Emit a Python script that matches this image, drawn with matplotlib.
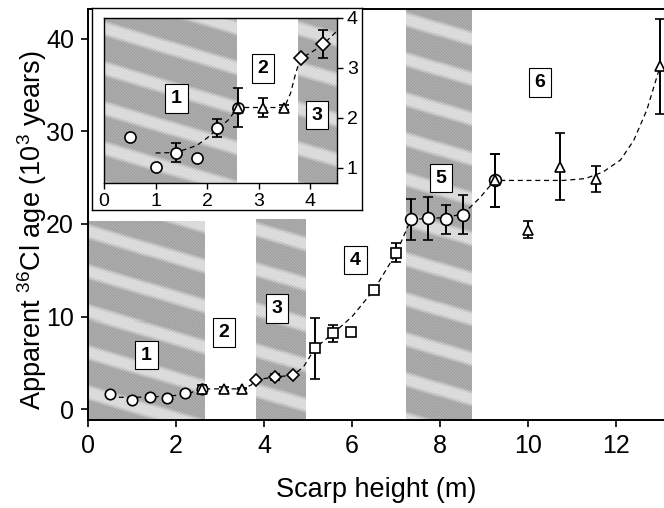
import numpy as np
import matplotlib
matplotlib.use("Agg")
import matplotlib.pyplot as plt

plt.rcParams['font.family'] = ['Liberation Sans', 'DejaVu Sans']
plt.rcParams['mathtext.default'] = 'regular'

# segment 1: circles
circ1_x = [0.5, 1.0, 1.4, 1.8, 2.2, 2.6]
circ1_y = [1.63, 1.03, 1.31, 1.21, 1.81, 2.21]
circ1_err = [0, 0, 0.19, 0, 0.18, 0]
# segment 2: triangles
tri2_x = [2.6, 3.08, 3.5]
tri2_y = [2.21, 2.21, 2.21]
tri2_err = [0.39, 0.19, 0.05]
# segment 3: diamonds
dia3_x = [3.82, 4.25, 4.67]
dia3_y = [3.2, 3.48, 3.7]
dia3_err = [0, 0.28, 0]
# segment 4: squares
sq4_x = [5.16, 5.57, 5.97, 6.5, 7.01]
sq4_y = [6.6, 8.2, 8.3, 12.9, 16.9]
sq4_err = [3.3, 0.95, 0, 0, 1.0]
# segment 5: circles
circ5_x = [7.34, 7.73, 8.13, 8.53, 9.24]
circ5_y = [20.5, 20.6, 20.5, 21.0, 24.7]
circ5_err = [2.2, 2.3, 1.6, 2.1, 2.9]
# segment 6: triangles
tri6_x = [9.24, 10.0, 10.72, 11.55, 13.0]
tri6_y = [24.7, 19.4, 26.2, 24.9, 37.0]
tri6_err = [2.9, 0.9, 3.6, 1.4, 5.1]

# dashed trend
curve_x = [0.5, 1.0, 1.5, 2.0, 2.3, 2.6, 3.0, 3.5, 3.7, 3.82, 4.25, 4.67, 4.9,
           5.16, 5.57, 6.0, 6.5, 7.01, 7.34, 7.73, 8.13, 8.53, 8.9, 9.24,
           10.0, 10.8, 11.3, 11.7, 12.1, 12.4, 12.7, 13.0]
curve_y = [1.3, 1.3, 1.35, 1.5, 1.75, 2.21, 2.21, 2.21, 2.6, 3.2, 3.48, 3.7, 4.6,
           6.6, 8.2, 10.0, 12.9, 16.9, 20.5, 20.6, 20.7, 21.1, 22.8, 24.7,
           24.7, 24.7, 24.9, 25.6, 26.9, 29.0, 32.3, 37.0]
inset_curve_x = [1.0, 1.4, 1.8, 2.0, 2.2, 2.4, 2.6, 3.0, 3.5, 3.62, 3.72, 3.81, 4.0, 4.23, 4.5]
inset_curve_y = [1.3, 1.31, 1.45, 1.6, 1.78, 1.95, 2.21, 2.21, 2.21, 2.5, 2.9, 3.19, 3.3, 3.45, 3.72]

# zone labels
zone_labels = ['1', '2', '3', '4', '5', '6']
zone_x = [1.33, 3.09, 4.30, 6.08, 8.02, 10.27]
zone_y = [5.85, 8.3, 10.9, 16.1, 24.95, 35.3]
inset_zone_labels = ['1', '2', '3']
inset_zone_x = [1.41, 3.08, 4.13]
inset_zone_y = [2.39, 2.99, 2.06]

main_bands = [(0.0, 2.64, 20.3), (3.82, 4.95, 20.5), (7.23, 8.72, 43.2)]
inset_bands = [(0.0, 2.58), (3.77, 4.52)]

W, H = 664, 508
fig = plt.figure(figsize=(W / 100, H / 100), dpi=100)


def fx(px):
    return px / W


def fy(py):
    return 1 - py / H


def stripes(ax, x0, x1, y0, y1, pxu, pyu):
    # striped grey texture like the photographic bands
    w = max(int((x1 - x0) * pxu), 2)
    h = max(int((y1 - y0) * pyu), 2)
    xx, yy = np.meshgrid(np.arange(w), np.arange(h))
    phase = (yy - 0.3 * xx) / 40.0
    s = np.sin(2 * np.pi * phase)
    tex = 0.64 + 0.2 * np.clip((s - 0.2) / 0.6, 0, 1) + 0.05 * ((xx + 2 * yy) % 3 == 0)
    ax.imshow(tex, cmap='gray', vmin=0, vmax=1, extent=(x0, x1, y0, y1),
              aspect='auto', origin='upper', zorder=0, interpolation='nearest')


def nz(err):
    return [e if e > 0 else np.nan for e in err]


ebkw = dict(ecolor='black', elinewidth=1.4, capsize=3.5, capthick=1.4,
            mec='black', mfc='white', mew=1.2, linestyle='none', zorder=3)
boxkw = dict(boxstyle='square,pad=0.3', fc='white', ec='black', lw=0.8)

# main axes
ax = fig.add_axes([fx(88), fy(420), 1 - fx(88), fy(9) - fy(420)])
ylo, yhi = -1.15, 43.2
for x0, x1, top in main_bands:
    stripes(ax, x0, x1, ylo, top, 44, 9.27)
ax.plot(curve_x, curve_y, color='black', lw=0.9, dashes=(4, 3), zorder=2)
ax.errorbar(circ1_x, circ1_y, yerr=nz(circ1_err), fmt='o', ms=7.5, **ebkw)
ax.errorbar(tri2_x, tri2_y, yerr=nz(tri2_err), fmt='^', ms=6.5, **ebkw)
ax.errorbar(dia3_x, dia3_y, yerr=nz(dia3_err), fmt='D', ms=6.5, **ebkw)
ax.errorbar(sq4_x, sq4_y, yerr=nz(sq4_err), fmt='s', ms=6.5, **ebkw)
ax.errorbar(circ5_x, circ5_y, yerr=nz(circ5_err), fmt='o', ms=8.5, **ebkw)
ax.errorbar(tri6_x, tri6_y, yerr=nz(tri6_err), fmt='^', ms=7, **ebkw)
for lab, x, y in zip(zone_labels, zone_x, zone_y):
    ax.text(x, y, lab, ha='center', va='center', fontsize=14, fontweight='bold',
            zorder=4, bbox=boxkw)
ax.set_xlim(0, 13.09)
ax.set_ylim(ylo, yhi)
ax.set_xticks([0, 2, 4, 6, 8, 10, 12])
ax.set_yticks([0, 10, 20, 30, 40])
ax.tick_params(labelsize=18, length=5, width=1.2, pad=5)
ax.spines['right'].set_visible(False)
for s in ['left', 'bottom', 'top']:
    ax.spines[s].set_linewidth(1.4)
ax.set_xlabel('Scarp height (m)', fontsize=19.5, labelpad=14)
ax.set_ylabel('Apparent $^{36}$Cl age (10$^{3}$ years)', fontsize=19.5)
ax.yaxis.set_label_coords(-0.068, 0.462)

# inset frame box
box = fig.add_axes([fx(92), fy(210), fx(362) - fx(92), fy(8) - fy(210)])
box.set_xticks([])
box.set_yticks([])
box.set_facecolor('white')
for s in box.spines.values():
    s.set_linewidth(1.0)

# inset axes
ins = fig.add_axes([fx(104), fy(183), fx(337) - fx(104), fy(18) - fy(183)])
for x0, x1 in inset_bands:
    stripes(ins, x0, x1, 0.7, 4.0, 51.5, 50)
ins.plot(inset_curve_x, inset_curve_y, color='black', lw=0.9, dashes=(4, 3), zorder=2)
sel = [i for i, x in enumerate(dia3_x) if x < 4.5]
ins.errorbar(circ1_x, circ1_y, yerr=nz(circ1_err), fmt='o', ms=8, **ebkw)
ins.errorbar(tri2_x, tri2_y, yerr=nz(tri2_err), fmt='^', ms=7, **ebkw)
ins.errorbar([dia3_x[i] for i in sel], [dia3_y[i] for i in sel],
             yerr=nz([dia3_err[i] for i in sel]), fmt='D', ms=7.5, **ebkw)
for lab, x, y in zip(inset_zone_labels, inset_zone_x, inset_zone_y):
    ins.text(x, y, lab, ha='center', va='center', fontsize=14, fontweight='bold',
             zorder=4, bbox=boxkw)
ins.set_xlim(0, 4.52)
ins.set_ylim(0.7, 4.0)
ins.set_xticks([0, 1, 2, 3, 4])
ins.set_yticks([1, 2, 3, 4])
ins.yaxis.tick_right()
ins.tick_params(labelsize=14, length=4, width=1.0, pad=3)
for s in ins.spines.values():
    s.set_linewidth(1.0)

fig.savefig('out.png', dpi=100)
